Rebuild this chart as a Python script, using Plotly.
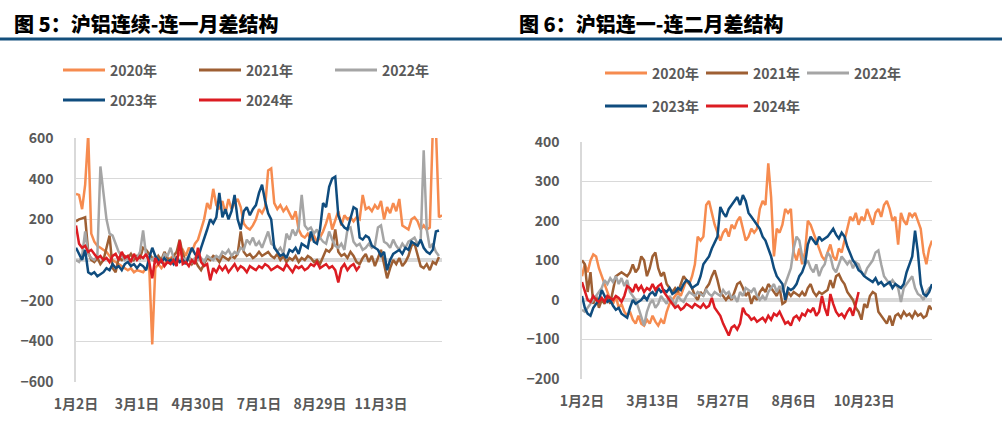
import plotly.graph_objects as go

W, H = 1002, 429

years = ["2020年", "2021年", "2022年", "2023年", "2024年"]
colors = ["#f68b4f", "#9e5f33", "#a5a5a5", "#0f4c7e", "#dc1c22"]

# 图5：连续-连一，约每两个交易日取一点
c1_ticks = ["1月2日", "3月1日", "4月30日", "7月1日", "8月29日", "11月3日"]

c1_2020 = [325, 320, 250, 370, 620, 130, 90, 70, 60, 50,
           40, 20, 0, -10, -20, -30, -40, -50, -40, -60,
           -50, -55, -60, -40, -30, -415, -40, -20, -40, -20,
           0, 10, 20, 10, 30, 50, 20, 60, 40, 80,
           100, 150, 200, 280, 250, 350, 270, 250, 290, 230,
           300, 250, 280, 300, 260, 180, 160, 150, 170, 200,
           250, 230, 260, 440, 450, 280, 250, 270, 240, 260,
           230, 200, 240, 150, 120, 110, 130, 100, 120, 90,
           110, 140, 180, 230, 150, 200, 240, 170, 220, 200,
           210, 190, 210, 200, 320, 250, 260, 240, 270, 250,
           290, 200, 260, 230, 280, 240, 300, 170, 160, 150,
           200, 210, 190, 150, 170, 150, 160, 650, 650, 210,
           220]
c1_2021 = [190, 200, 205, 210, 40, 0, -10, 10, -20, 0,
           60, 120, -40, -60, 10, 0, 20, 10, 30, 0,
           20, 10, 60, 50, 30, 10, -10, 20, 0, 40,
           10, -10, 20, 40, 100, 30, -10, 10, -20, 0,
           -30, -50, -20, 10, 0, 20, 10, -10, 20, 10,
           0, 20, 10, 30, 140, 40, 20, 30, 10, 20,
           40, 20, 30, 40, 20, 10, 30, 0, 20, -10,
           10, 0, 20, -10, 10, 0, 20, 10, -10, 0,
           -20, 20, 50, 40, 60, 150, 40, 20, 30, 10,
           40, 20, -10, -20, 10, 30, -10, 20, -30, 10,
           50, -20, -90, -40, 0, -20, 10, -30, -10, 20,
           70, 80, 30, -30, -40, -20, -50, -10, -20, 15]
c1_2022 = [0, -10, 20, 140, 30, 10, 0, 20, 460, 320,
           200, 130, 120, 80, 40, 20, 0, 10, -10, 20,
           10, 40, 145, 20, 10, 0, 20, 0, -10, 30,
           20, 60, 10, 0, -10, 10, 0, 20, -10, 10,
           0, 10, -10, 20, 10, 0, 20, 10, 40, 30,
           50, 20, 40, 30, 60, 50, 100, 80, 110, 70,
           90, 60, 100, 140, 80, 70, 40, 60, 30, 130,
           100, 150, 120, 160, 320, 170, 150, 160, 130, 150,
           110, 90, 80, 140, 100, 70, 60, 80, 50, 150,
           160, 90, 70, 80, 50, 60, 80, 60, 70, 160,
           170, 90, 80, 60, 100, 70, 50, 80, 60, 90,
           100, 110, 80, 90, 540, 150, 60, 80, 40, 20]
c1_2023 = [60, 30, 0, 50, -60, -70, -60, -80, -70, -60,
           -40, -50, -20, -40, -30, -50, -20, -10, -30, -20,
           -40, -20, -30, -50, 10, 60, 20, 0, -10, 10,
           -10, 0, -20, 10, -10, 0, -20, 20, 60, 30,
           10, 60, 100, 150, 200, 180, 210, 330, 210, 250,
           200, 240, 320, 200, 150, 240, 260, 220, 250, 270,
           330, 370, 290, 230, 200, 60, 40, 20, 30, 10,
           50, 40, 60, 30, 80, 70, 60, 140, 90, 80,
           150, 280, 260, 360, 400, 410, 220, 180, 160, 150,
           200, 260, 250, 110, 100, 120, 110, 70, 60, 50,
           20, 40, -50, 0, 30, 40, 50, 30, 60, 50,
           90, 80, 70, 100, 60, 40, 30, 50, 140, 145]
c1_2024 = [170, 80, 60, 70, 40, 50, 30, 10, 20, 0,
           10, -10, 20, 30, 0, 40, 10, 20, -10, 30,
           0, 20, 10, 30, -10, -90, 10, -20, 0, -30,
           -10, -20, 0, -30, 95, -20, -10, -30, 0, -20,
           60, -10, -30, -20, -100, -40, -60, -30, -50, -30,
           -60, -40, -20, -50, -30, -40, -60, -30, -40, -50,
           -30, -40, -20, -30, -50, -40, -30, -40, -50, -20,
           -40, -60, -30, -40, -30, -50, -40, -20, -30, -10,
           -40, -30, -20, -40, -30, -50, -110, -40, -20, -50,
           -30, -20, -50, -30]

# 图6：连一-连二
c2_ticks = ["1月2日", "3月13日", "5月27日", "8月6日", "10月23日"]

c2_2020 = [60, 90, 70, 100, 115, 110, 80, 60, 40, 20,
           0, -10, 10, -20, -10, -30, -40, -30, -50, -60,
           -40, -60, -65, -50, -60, -40, -55, -65, -50, -60,
           -30, -10, 0, 10, 20, 10, 30, 50, 40, 60,
           90, 160, 150, 160, 240, 250, 220, 190, 170, 150,
           170, 180, 160, 190, 180, 200, 210, 180, 150, 160,
           180, 170, 180, 230, 250, 240, 345, 260, 110, 180,
           170, 190, 230, 220, 230, 120, 100, 130, 90, 120,
           200, 190, 170, 150, 130, 110, 100, 120, 140, 110,
           100, 130, 120, 150, 180, 210, 200, 220, 190, 210,
           200, 230, 210, 190, 220, 230, 210, 240, 250, 230,
           200, 210, 140, 220, 200, 190, 220, 210, 220, 200,
           180, 120, 90, 130, 150]
c2_2021 = [100, 90, 20, 70, -10, 10, -20, 0, -10, 10,
           -10, 30, 60, 65, 70, 65, 60, 70, 90, 70,
           80, 110, 100, 60, 80, 110, 120, 80, 60, 70,
           40, 30, 20, 30, 20, 40, 60, 50, 40, 30,
           10, 0, 20, 10, 30, 40, 60, 75, 50, 20,
           10, 0, 10, 0, 20, 40, 45, 30, 10, 20,
           -10, 10, 0, 20, 30, 20, 40, 30, 20, 10,
           30, -10, -5, 20, 10, 20, 15, 10, 20, 10,
           30, 40, 20, 10, 20, 15, 20, 25, 50, 30,
           60, 65, 50, 40, 20, 10, 0, -20, -30, -50,
           -10, -20, 10, 20, 15, -30, -40, -50, -60, -40,
           -65, -40, -35, -45, -30, -40, -35, -45, -30, -40,
           -35, -45, -40, -15, -25]
c2_2022 = [-25, -30, -20, -10, 0, 10, 20, 30, 50, 40,
           55, 45, 60, 40, 55, 35, 50, 20, 10, 0,
           -20, -40, -65, -30, -10, 0, -20, -10, 10, 0,
           -10, 10, 0, -15, 10, 0, -5, 10, 20, 15,
           10, 20, 15, 10, 25, 15, 10, 20, 15, 10,
           25, 15, 20, 5, 10, -5, 20, 10, 30, 25,
           20, 30, 10, 0, 10, 0, 20, 30, 40, 20,
           35, 20, 40, 60, 80, 130, 160, 150, 110, 90,
           100, 80, 70, 90, 60, 80, 90, 120, 110, 80,
           70, 90, 110, 100, 90, 100, 80, 95, 90, 70,
           60, 80, 90, 100, 120, 125, 90, 60, 50, 40,
           50, 40, 30, -5, 30, 40, 50, 60, 30, 15,
           10, 0, 20, 30, 35]
c2_2023 = [10, -20, -35, -40, -20, -10, 0, 25, 10, -5,
           0, -15, -25, -20, -35, -40, -45, -20, 0, -10,
           -5, 0, 10, 0, 15, 20, 10, 30, 20, 25,
           20, 30, 15, 20, 30, 25, 40, 50, 45, 30,
           35, 40, 60, 90, 100, 110, 130, 145, 160, 235,
           220, 210, 230, 240, 250, 260, 240, 265, 250, 220,
           210, 200, 190, 180, 160, 150, 130, 110, 80, 60,
           50, 40, 0, 30, 25, 30, 40, 60, 70, 90,
           140, 160, 150, 140, 160, 150, 155, 160, 170, 180,
           165, 155, 170, 160, 135, 115, 100, 90, 75, 70,
           60, 55, 50, 45, 55, 40, 45, 35, 40, 45,
           30, 40, 35, 30, 40, 70, 90, 110, 175, 120,
           40, 15, 10, 20, 40]
c2_2024 = [45, 20, 0, -5, 10, 0, -5, 5, -5, 10,
           5, 0, 10, 5, -5, 10, 35, 30, 20, 40,
           25, 35, 20, 30, 25, 40, 25, 35, 40, 20,
           10, 0, -10, -20, -15, -25, -20, -10, -15, -20,
           -10, -15, -20, -10, -20, -15, 5, -20, -30, -40,
           -60, -75, -90, -70, -65, -75, -60, -20, -35, -40,
           -50, -45, -55, -50, -45, -55, -40, -50, -35, -40,
           -30, -45, -60, -55, -65, -45, -40, -50, -35, -40,
           -25, -30, -20, -40, -30, 10, -20, -40, 15, -10,
           -30, -40, -35, -45, -30, -20, -40, -10, 20]

c1_series = [c1_2020, c1_2021, c1_2022, c1_2023, c1_2024]
c2_series = [c2_2020, c2_2021, c2_2022, c2_2023, c2_2024]

tick_font = dict(family="Noto Sans CJK SC", size=14, color="#595959", weight="bold")
grid = "#d9d9d9"


def px(x):
    return x / W


def py(y):
    return 1 - y / H


fig = go.Figure()

for name, color, ys in zip(years, colors, c1_series):
    fig.add_trace(go.Scatter(x=list(range(len(ys))), y=ys, mode="lines", name=name,
                             line=dict(color=color, width=2.5), showlegend=False,
                             hoverinfo="skip", xaxis="x", yaxis="y"))

for name, color, ys in zip(years, colors, c2_series):
    fig.add_trace(go.Scatter(x=list(range(len(ys))), y=ys, mode="lines", name=name,
                             line=dict(color=color, width=2.5), showlegend=False,
                             hoverinfo="skip", xaxis="x2", yaxis="y2"))

xaxis_common = dict(showgrid=False, showline=False, zeroline=False, ticks="", automargin=False,
                    tickfont=tick_font, tickangle=0, ticklabelstandoff=12)
yaxis_common = dict(showgrid=True, gridcolor=grid, gridwidth=1, showline=True, automargin=False,
                    linecolor=grid, linewidth=1.5, zeroline=True, zerolinecolor=grid,
                    zerolinewidth=4, ticks="", tickfont=tick_font, ticklabelstandoff=18)

fig.update_layout(
    width=W, height=H, autosize=False,
    margin=dict(l=0, r=0, t=0, b=0, pad=0, autoexpand=False),
    showlegend=False,
    paper_bgcolor="white", plot_bgcolor="white",
    xaxis=dict(xaxis_common, domain=[px(76), px(442)], range=[0, 120],
               tickvals=[i * 20 for i in range(len(c1_ticks))], ticktext=c1_ticks, anchor="y"),
    yaxis=dict(yaxis_common, domain=[py(382), py(138)], range=[-600, 600], dtick=200, anchor="x"),
    xaxis2=dict(xaxis_common, domain=[px(582), px(932)], range=[0, 124],
                tickvals=[i * 25 for i in range(len(c2_ticks))], ticktext=c2_ticks, anchor="y2"),
    yaxis2=dict(yaxis_common, domain=[py(379), py(141.7)], range=[-200, 400], dtick=100, anchor="x2"),
)

shapes = [dict(type="line", xref="paper", yref="paper", x0=0, x1=1, y0=py(39), y1=py(39),
               line=dict(color="#134f7c", width=3))]
annotations = []

title_font = dict(family="Noto Sans CJK SC", size=20, color="black", weight=900)
annotations.append(dict(text="图 5：沪铝连续-连一月差结构", x=px(12), y=py(24), xref="paper", yref="paper",
                        xanchor="left", yanchor="middle", showarrow=False, font=title_font))
annotations.append(dict(text="图 6：沪铝连一-连二月差结构", x=px(517), y=py(24), xref="paper", yref="paper",
                        xanchor="left", yanchor="middle", showarrow=False, font=title_font))

# 手工图例
legend_font = dict(family="Noto Sans CJK SC", size=14, color="#595959", weight="bold")
legend_cfg = [(63, 136, 70, 30), (605, 101, 73, 33)]
for x_start, col_gap, y_start, row_gap in legend_cfg:
    for k, (name, color) in enumerate(zip(years, colors)):
        col, row = k % 3, k // 3
        lx = x_start + col * col_gap
        ly = y_start + row * row_gap
        shapes.append(dict(type="line", xref="paper", yref="paper", x0=px(lx), x1=px(lx + 42),
                           y0=py(ly), y1=py(ly), line=dict(color=color, width=3)))
        annotations.append(dict(text=name, x=px(lx + 45), y=py(ly), xref="paper", yref="paper",
                                xanchor="left", yanchor="middle", showarrow=False, font=legend_font))

fig.update_layout(shapes=shapes, annotations=annotations)

# 去掉页面默认边距，让图从左上角开始
fig.write_html("out.html", config={"displayModeBar": False},
               post_script="document.body.style.margin='0';document.body.style.overflow='hidden';")
